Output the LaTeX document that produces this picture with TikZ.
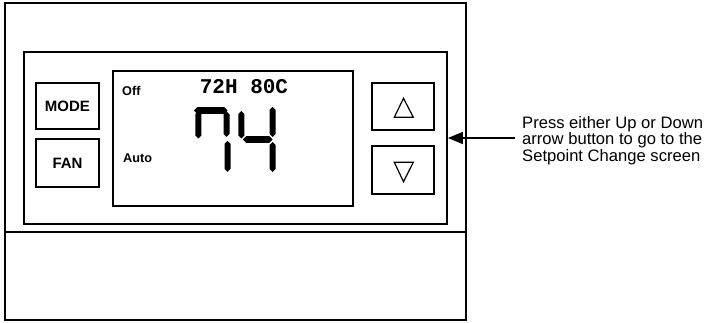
\documentclass[tikz,border=0pt]{standalone}
\usepackage{fontspec}
\setmainfont{Liberation Sans}
\newfontfamily\monobold{Liberation Mono}[BoldFont={* Bold}]
\usetikzlibrary{arrows.meta}
\tikzset{
  btntext/.style={font=\fontsize{15}{16}\selectfont\bfseries},
  smalllab/.style={font=\fontsize{12.7}{14}\selectfont\bfseries, inner sep=0pt, anchor=west},
  seg/.style={fill=black, draw=none},
  tri/.style={draw=black, line width=1.2pt, line join=miter},
}
\newcommand{\hseg}[3]{% x1, x2, y
  \fill[seg] (#1,#3) -- ++(3.2,-3.4) -- (#2-3.2,#3-3.4) -- (#2,#3) -- (#2-3.2,#3+3.4) -- (#1+3.2,#3+3.4) -- cycle;}
\newcommand{\vseg}[3]{% x, y1, y2
  \fill[seg] (#1,#2) -- ++(3,3) -- (#1+3,#3-3) -- (#1,#3) -- (#1-3,#3-3) -- (#1-3,#2+3) -- cycle;}
\begin{document}
\begin{tikzpicture}[x=1pt, y=-1pt]
\useasboundingbox (0,0) rectangle (705,323);
% housing
\draw[line width=2pt] (5,3.5) rectangle (466,320.5);
\coordinate (divL) at (5,232);
\coordinate (divR) at (466,232);
\draw[line width=1.8pt] (divL) -- (divR);
% face panel
\node[draw, line width=1.8pt, minimum width=423pt, minimum height=172pt, inner sep=0pt] (panel) at (235.5,138) {};
% LCD
\node[draw, line width=1.5pt, minimum width=240pt, minimum height=135pt, inner sep=0pt] (lcd) at (233,138.5) {};
% buttons
\node[draw, line width=1.5pt, minimum width=63pt, minimum height=46pt, inner sep=0pt, btntext] (mode) at (67.5,106) {MODE};
\node[draw, line width=1.5pt, minimum width=63pt, minimum height=48pt, inner sep=0pt, btntext] (fan) at (67.5,163) {FAN};
\node[draw, line width=1.5pt, minimum width=62pt, minimum height=47pt, inner sep=0pt] (up) at (403,106.5) {};
\node[draw, line width=1.5pt, minimum width=62pt, minimum height=48pt, inner sep=0pt] (down) at (403,170) {};
% triangles
\draw[tri] (394.3,117.3) -- (403.5,98.3) -- (413.3,117.3) -- cycle;
\draw[tri] (394.3,162.3) -- (403.5,181.7) -- (413.3,162.3) -- cycle;
% LCD texts
\node[smalllab] (off) at (122,91) {Off};
\node[smalllab] (auto) at (123,158.5) {Auto};
\node[font=\fontsize{21}{22}\selectfont\monobold\bfseries, inner sep=0pt, anchor=base] (setp) at (244,94) {72H 80C};
% big digits "74"
\hseg{194}{227.5}{110.5}
\vseg{198.3}{111}{138.5}
\vseg{226.5}{111.5}{137}
\vseg{227.5}{141}{172}
\vseg{241.3}{111}{138.5}
\hseg{243}{272.5}{139.5}
\vseg{272.5}{107}{137}
\vseg{272.5}{142}{172}
% annotation
\node[font=\fontsize{16.6}{16.5}\selectfont, align=left, inner sep=0pt, anchor=base west] (note) at (522,161.5)
  {Press either Up or Down\\arrow button to go to the\\Setpoint Change screen};
\coordinate (arrstart) at (515,138);
\draw[line width=1.5pt, -{Triangle[length=15pt, width=12pt]}] (arrstart) -- (panel.east);
\end{tikzpicture}
\end{document}
